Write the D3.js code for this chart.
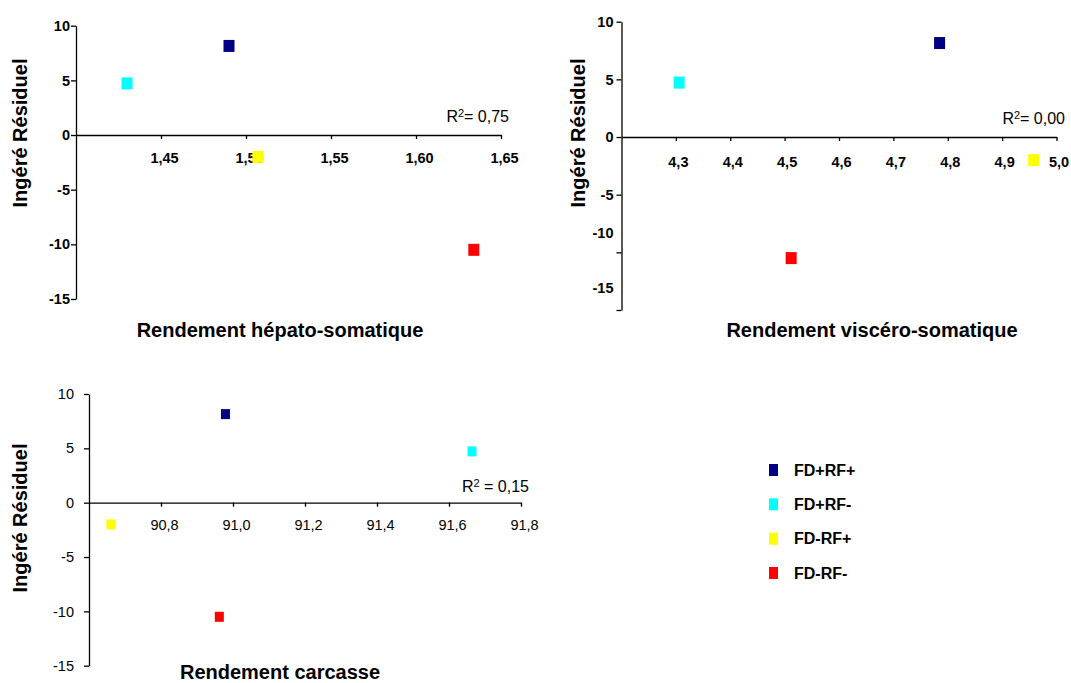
<!DOCTYPE html>
<html>
<head>
<meta charset="utf-8">
<script src="https://cdn.jsdelivr.net/npm/d3@7"></script>
<style>
  body { margin: 0; background: #fff; }
  svg { font-family: "Liberation Sans", Arial, sans-serif; }
  .axis path, .axis line { stroke: #000; stroke-width: 1.3; }
  .axis text { font-size: 14.5px; font-weight: bold; fill: #000; }
  .axis.light text { font-weight: normal; }
  .title { font-size: 20px; font-weight: bold; }
  .r2 { font-size: 16px; }
  .legend text { font-size: 16px; font-weight: bold; }
</style>
</head>
<body>
<svg width="1071" height="683"></svg>
<script>
const groups    = ["FD+RF+", "FD+RF-", "FD-RF+", "FD-RF-"];
const colors    = ["#000080", "#00ffff", "#ffff00", "#ff0000"];
const residuals = [8.15, 4.72, -2.0, -10.5];

const hepato    = [1.490, 1.430, 1.507, 1.634];
const viscero   = [4.785, 4.306, 4.958, 4.512];
const carcasse  = [90.979, 91.664, 90.661, 90.962];

const yTicks       = [10, 5, 0, -5, -10, -15];
const hepatoTicks  = [1.45, 1.50, 1.55, 1.60, 1.65];
const visceroTicks = [4.3, 4.4, 4.5, 4.6, 4.7, 4.8, 4.9, 5.0];
const carcTicks    = [90.8, 91.0, 91.2, 91.4, 91.6, 91.8];

const r2Labels  = ["0,75", "0,00", "0,15"];

let svg = d3.select("svg");

let panels = [
  {xs: hepato,   ticks: hepatoTicks,  dom: [1.40, 1.65], dec: 2, light: false,
   xr: [76, 501],  yr: [299, 25.7], ypad: 1, xshift: 3, xpad: 14, mw: 11, mh: 12,
   title: "Rendement hépato-somatique", tx: 280, ty: 330, yx: 20, yy: 133,
   r2: r2Labels[0], r2x: 509, r2y: 122, eq: "= ", shift: {}},
  {xs: viscero,  ticks: visceroTicks, dom: [4.2, 5.0], dec: 1, light: false,
   xr: [621.5, 1056.5], yr: [310, 21.7], ypad: 3, xshift: 2, xpad: 16, mw: 11, mh: 12,
   title: "Rendement viscéro-somatique", tx: 872, ty: 330, yx: 578, yy: 133,
   r2: r2Labels[1], r2x: 1065, r2y: 124, eq: "= ", shift: {"-10": -19, "-15": -22}},
  {xs: carcasse, ticks: carcTicks,    dom: [90.6, 91.8], dec: 1, light: true,
   xr: [89, 521],  yr: [665.7, 394], ypad: 10, xshift: 3, xpad: 13, mw: 9, mh: 10,
   title: "Rendement carcasse", tx: 280, ty: 672, yx: 20, yy: 518,
   r2: r2Labels[2], r2x: 529, r2y: 492, eq: " = ", shift: {}}
];

panels.forEach(p => drawPanel(p));
drawLegend();

function drawPanel(p) {
  let g   = svg.append("g"),
      x   = d3.scaleLinear().domain(p.dom).range(p.xr),
      y   = d3.scaleLinear().domain([-15, 10]).range(p.yr),
      fmt = d => d3.format("." + p.dec + "f")(d).replace(".", ",");

  let yAxis = g.append("g")
    .attr("class", "axis" + (p.light ? " light" : ""))
    .attr("transform", `translate(${p.xr[0]},0)`)
    .call(d3.axisLeft(y).tickValues(yTicks).tickFormat(d => String(d))
            .tickSize(5).tickSizeOuter(0).tickPadding(p.ypad));

  yAxis.selectAll(".tick text")
    .attr("y", d => p.shift[String(d)] || 0);

  let xAxis = g.append("g")
    .attr("class", "axis" + (p.light ? " light" : ""))
    .attr("transform", `translate(0,${y(0)})`)
    .call(d3.axisBottom(x).tickValues(p.ticks).tickFormat(fmt)
            .tickSize(4).tickSizeOuter(0).tickPadding(p.xpad));

  xAxis.selectAll(".tick text").attr("x", p.xshift);

  g.selectAll(".pt")
    .data(p.xs)
    .enter().append("rect")
      .attr("class", "pt")
      .attr("x", d => x(d) - p.mw / 2)
      .attr("y", (d, i) => y(residuals[i]) - p.mh / 2)
      .attr("width", p.mw)
      .attr("height", p.mh)
      .attr("fill", (d, i) => colors[i]);

  g.append("text")
    .attr("class", "title")
    .attr("text-anchor", "middle")
    .attr("transform", `translate(${p.yx},${p.yy}) rotate(-90)`)
    .attr("dy", "0.35em")
    .text("Ingéré Résiduel");

  g.append("text")
    .attr("class", "title")
    .attr("text-anchor", "middle")
    .attr("x", p.tx)
    .attr("y", p.ty)
    .attr("dy", "0.35em")
    .text(p.title);

  let r2 = g.append("text")
    .attr("class", "r2")
    .attr("text-anchor", "end")
    .attr("x", p.r2x)
    .attr("y", p.r2y);
  r2.append("tspan").text("R");
  r2.append("tspan").attr("font-size", "11px").attr("dy", "-5").text("2");
  r2.append("tspan").attr("dy", "5").text(p.eq + p.r2);
}

function drawLegend() {
  let legend = svg.append("g").attr("class", "legend"),
      ly     = d3.scalePoint().domain(groups).range([470, 573]);

  legend.selectAll("rect")
    .data(groups)
    .enter().append("rect")
      .attr("x", 769)
      .attr("y", d => ly(d) - 6)
      .attr("width", 9)
      .attr("height", 12)
      .attr("fill", (d, i) => colors[i]);

  legend.selectAll("text")
    .data(groups)
    .enter().append("text")
      .attr("x", 794)
      .attr("y", d => ly(d))
      .attr("dy", "0.36em")
      .text(d => d);
}
</script>
</body>
</html>
